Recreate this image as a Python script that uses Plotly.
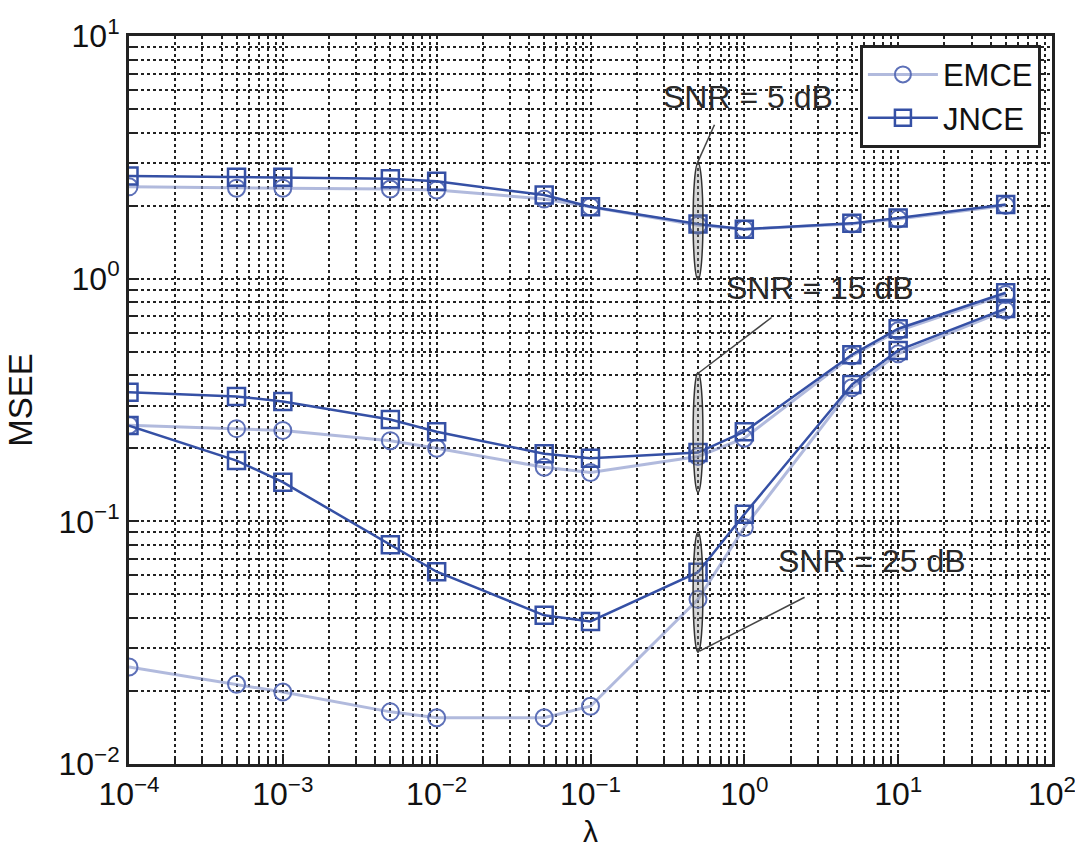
import math
import plotly.graph_objects as go

lam = [1e-4, 5e-4, 1e-3, 5e-3, 1e-2, 5e-2, 1e-1, 0.5, 1, 5, 10, 50]

emce_5db = [2.39, 2.36, 2.36, 2.34, 2.32, 2.13, 1.98, 1.66, 1.60, 1.68, 1.76, 2.00]
jnce_5db = [2.65, 2.62, 2.62, 2.58, 2.52, 2.21, 1.98, 1.68, 1.60, 1.69, 1.78, 2.02]
emce_15db = [0.249, 0.241, 0.237, 0.215, 0.200, 0.167, 0.159, 0.185, 0.220, 0.48, 0.61, 0.86]
jnce_15db = [0.340, 0.327, 0.312, 0.263, 0.234, 0.190, 0.182, 0.192, 0.234, 0.486, 0.622, 0.875]
emce_25db = [0.0251, 0.0213, 0.0198, 0.0164, 0.0155, 0.0155, 0.0173, 0.0477, 0.0944, 0.355, 0.49, 0.74]
jnce_25db = [0.248, 0.178, 0.145, 0.080, 0.062, 0.041, 0.0387, 0.0617, 0.107, 0.366, 0.506, 0.753]

x_tickvals = [1e-4, 1e-3, 1e-2, 1e-1, 1, 10, 100]
x_ticktext = ["10<sup>−4</sup>", "10<sup>−3</sup>", "10<sup>−2</sup>", "10<sup>−1</sup>",
              "10<sup>0</sup>", "10<sup>1</sup>", "10<sup>2</sup>"]
y_tickvals = [0.01, 0.1, 1, 10]
y_ticktext = ["10<sup>−2</sup>", "10<sup>−1</sup>", "10<sup>0</sup>", "10<sup>1</sup>"]

snr_labels = ["SNR = 5 dB", "SNR = 15 dB", "SNR = 25 dB"]

XR = (-4, 2)
YR = (-2, 1)


def px(lx):
    return (lx - XR[0]) / (XR[1] - XR[0])


def py(ly):
    return (ly - YR[0]) / (YR[1] - YR[0])


EMCE_LINE = "rgba(125,140,198,0.6)"
EMCE_MARK = "#5d70b8"
JNCE_COL = "#3550a5"
FONT = "Arial, Liberation Sans, sans-serif"

fig = go.Figure()

emce_sets = [emce_5db, emce_15db, emce_25db]
jnce_sets = [jnce_5db, jnce_15db, jnce_25db]
for i, ys in enumerate(emce_sets):
    fig.add_trace(go.Scatter(
        x=lam, y=ys, mode="lines+markers", name="EMCE", legendgroup="EMCE",
        showlegend=(i == 0),
        line=dict(color=EMCE_LINE, width=3),
        marker=dict(symbol="circle-open", size=17, color=EMCE_MARK, line=dict(width=2, color=EMCE_MARK)),
    ))
for i, ys in enumerate(jnce_sets):
    fig.add_trace(go.Scatter(
        x=lam, y=ys, mode="lines+markers", name="JNCE", legendgroup="JNCE",
        showlegend=(i == 0),
        line=dict(color=JNCE_COL, width=2.5),
        marker=dict(symbol="square-open", size=17, color=JNCE_COL, line=dict(width=2.5, color=JNCE_COL)),
    ))

# annotation ellipses and leader lines at lambda = 0.5 (positions in log units -> paper)
xc = math.log10(0.5)
ell = [(-0.004, 0.477), (-0.881, -0.387), (-1.539, -1.045)]
for (y0, y1) in ell:
    fig.add_shape(type="circle", xref="paper", yref="paper",
                  x0=px(xc - 0.032), x1=px(xc + 0.032), y0=py(y0), y1=py(y1),
                  line=dict(color="#333333", width=1.5), fillcolor="rgba(140,140,140,0.35)", layer="above")

leaders = [(-0.311, 0.469, -0.194, 0.634), (-0.311, -0.395, 0.177, -0.160), (-0.291, -1.535, 0.392, -1.313)]
for (a, b, c, d) in leaders:
    fig.add_shape(type="line", xref="paper", yref="paper", x0=px(a), y0=py(b), x1=px(c), y1=py(d),
                  line=dict(color="#444444", width=1.5), layer="above")

label_pos = [(0.021, 0.749), (0.489, -0.037), (0.828, -1.165)]
for txt, (lx, ly) in zip(snr_labels, label_pos):
    fig.add_annotation(x=px(lx), y=py(ly), xref="paper", yref="paper", text=txt, showarrow=False,
                       xanchor="center", yanchor="middle",
                       font=dict(family=FONT, size=32, color="#2a2a2a"))

axis_common = dict(
    type="log", showgrid=True, gridcolor="#222222", griddash="dot", gridwidth=1.5,
    minor=dict(dtick="D1", showgrid=True, gridcolor="#222222", griddash="dot", gridwidth=1.5,
               ticks="inside", ticklen=6, tickcolor="#222222"),
    ticks="inside", ticklen=10, tickcolor="#222222", tickwidth=2,
    showline=True, linecolor="#222222", linewidth=3, mirror=True,
    tickfont=dict(family=FONT, size=32, color="#111111"),
    ticklabeloverflow="allow",
    zeroline=False, automargin=False,
)

fig.update_xaxes(
    range=list(XR), tickmode="array", tickvals=x_tickvals, ticktext=x_ticktext,
    title=dict(text="λ", font=dict(family=FONT, size=30, color="#111111"), standoff=10),
    **axis_common,
)
fig.update_yaxes(
    range=list(YR), tickmode="array", tickvals=y_tickvals, ticktext=y_ticktext,
    title=dict(text="MSEE", font=dict(family=FONT, size=33, color="#111111"), standoff=16),
    **axis_common,
)

fig.update_layout(
    width=1075, height=851,
    margin=dict(l=129, r=23, t=36, b=87),
    paper_bgcolor="white", plot_bgcolor="white",
    showlegend=True,
    legend=dict(x=0.988, y=0.988, xanchor="right", yanchor="top",
                bgcolor="white", bordercolor="#222222", borderwidth=3,
                font=dict(family=FONT, size=31, color="#111111"),
                itemwidth=70, tracegroupgap=0),
)

fig.write_html("out.html",
               config={"displayModeBar": False},
               post_script="document.body.style.margin='0';document.body.style.overflow='hidden';")
